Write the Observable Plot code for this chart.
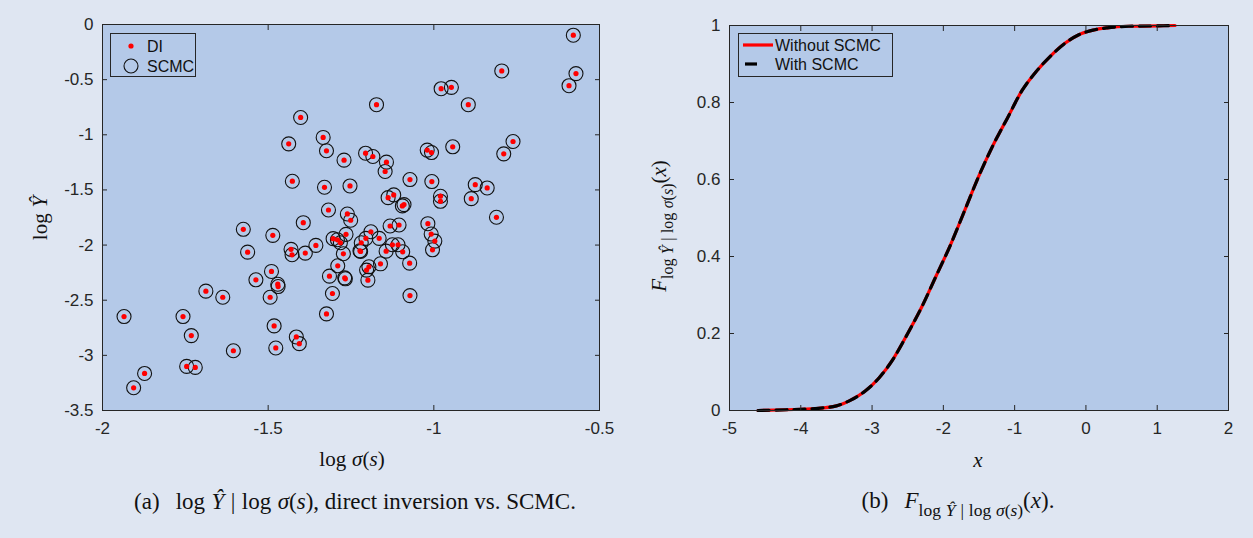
<!DOCTYPE html>
<html><head><meta charset="utf-8">
<script src="https://cdn.jsdelivr.net/npm/d3@7"></script>
<script src="https://cdn.jsdelivr.net/npm/@observablehq/plot@0.6"></script>
<style>
body{margin:0;background:#dfe6f2;}
#wrap{position:relative;width:1253px;height:538px;background:#dfe6f2;overflow:hidden;font-family:"Liberation Sans",Arial,sans-serif;color:#262626;}
.abs{position:absolute;}
.math{font-family:"Liberation Serif","DejaVu Serif",serif;font-size:21px;color:#111;white-space:nowrap;}
.math i{font-style:italic;}
.cap{font-size:23px;}
.cen{transform:translate(-50%,-50%);}
.rot{transform:translate(-50%,-50%) rotate(-90deg);}
.leg{border:1px solid #262626;background:#b4c9e8;box-sizing:border-box;font-size:16px;color:#111;}
sub{font-size:76%;vertical-align:-0.45em;}
.sp{display:inline-block;width:0.28em;}
.sp2{display:inline-block;width:0.7em;}
</style></head>
<body><div id="wrap"></div>
<script>
// ---- data (a): log sigma(s) vs log Yhat ----
const logSigma = [-1.402,-1.334,-1.438,-1.324,-1.271,-1.427,-1.330,-1.253,-1.318,-1.261,-1.394,
-0.579,-0.795,-0.571,-0.592,-0.978,-0.947,-1.173,-0.896,-0.761,-0.789,-0.943,-1.020,-1.007,
-1.206,-1.184,-1.143,-1.147,-1.072,-1.006,-1.138,-1.121,-1.095,-1.090,-0.980,-0.980,-0.875,
-0.839,-0.887,-0.811,-1.251,-1.105,-1.132,-1.018,-1.575,-1.486,-1.562,-1.431,-1.428,-1.388,
-1.356,-1.304,-1.291,-1.282,-1.265,-1.273,-1.290,-1.315,-1.269,-1.267,-1.490,-1.537,-1.471,
-1.470,-1.494,-1.306,-1.324,-1.688,-1.637,-1.935,-1.757,-1.732,-1.482,-1.477,-1.415,-1.406,
-1.605,-1.746,-1.720,-1.873,-1.906,-1.190,-1.205,-1.219,-1.165,-1.125,-1.108,-1.144,-1.094,
-1.223,-1.221,-1.161,-1.196,-1.203,-1.199,-1.073,-1.072,-1.008,-0.997,-1.004];
const logYhat = [-0.843,-1.024,-1.082,-1.145,-1.230,-1.421,-1.476,-1.464,-1.682,-1.718,-1.797,
-0.097,-0.421,-0.445,-0.555,-0.582,-0.570,-0.727,-0.727,-1.061,-1.173,-1.109,-1.139,-1.161,
-1.167,-1.197,-1.248,-1.333,-1.406,-1.424,-1.570,-1.545,-1.645,-1.633,-1.557,-1.603,-1.452,
-1.482,-1.579,-1.748,-1.775,-1.818,-1.827,-1.806,-1.857,-1.912,-2.064,-2.039,-2.088,-2.073,
-2.003,-1.942,-1.952,-1.979,-1.903,-2.079,-2.188,-2.282,-2.297,-2.306,-2.239,-2.315,-2.355,
-2.376,-2.473,-2.439,-2.624,-2.418,-2.473,-2.648,-2.648,-2.821,-2.733,-2.933,-2.833,-2.894,
-2.958,-3.100,-3.109,-3.164,-3.294,-1.879,-1.939,-1.979,-1.939,-1.997,-1.997,-2.055,-2.061,
-2.052,-2.058,-2.170,-2.197,-2.227,-2.318,-2.164,-2.458,-1.900,-1.964,-2.043];
const xTicksA = [-2,-1.5,-1,-0.5];
const yTicksA = [0,-0.5,-1,-1.5,-2,-2.5,-3,-3.5];

// ---- data (b): CDF ----
const cdfX       = [-4.6,-4.2,-3.8,-3.5,-3.3,-3.1,-2.9,-2.7,-2.5,-2.3,-2.1,-1.9,-1.7,-1.5,-1.3,-1.1,-0.9,-0.7,-0.5,-0.3,-0.1,0.1,0.3,0.6,1.0,1.25];
const cdfWithout = [0,0.002,0.005,0.012,0.027,0.05,0.085,0.135,0.2,0.27,0.35,0.43,0.52,0.61,0.69,0.76,0.83,0.88,0.92,0.953,0.976,0.988,0.994,0.998,0.999,1.0];
const cdfWith    = [0,0.002,0.005,0.012,0.027,0.05,0.085,0.135,0.2,0.27,0.35,0.43,0.52,0.61,0.69,0.76,0.83,0.88,0.92,0.953,0.976,0.988,0.994,0.998,0.999,1.0];
const xTicksB = [-5,-4,-3,-2,-1,0,1,2];
const yTicksB = [0,0.2,0.4,0.6,0.8,1];

const plotBg = "#b4c9e8";
const axisCol = "#262626";
const fmt = d => String(d);

const scatter = logSigma.map((x,i)=>({x, y: logYhat[i]}));
const cdf = cdfX.map((x,i)=>({x, without: cdfWithout[i], with: cdfWith[i]}));

const common = {style:{background:"transparent",fontFamily:'"Liberation Sans",Arial,sans-serif',fontSize:"17px",color:axisCol,overflow:"visible"}};

function axes(xt, yt) {
  return [
    Plot.axisX(xt, {anchor:"bottom", tickSize:-5, tickPadding:16, tickFormat:fmt, label:null, stroke:axisCol}),
    Plot.axisX(xt, {anchor:"top", tickSize:-5, tickFormat:()=>"", label:null, stroke:axisCol}),
    Plot.axisY(yt, {anchor:"left", tickSize:-5, tickPadding:14, tickFormat:fmt, label:null, stroke:axisCol}),
    Plot.axisY(yt, {anchor:"right", tickSize:-5, tickFormat:()=>"", label:null, stroke:axisCol})
  ];
}

const chartA = Plot.plot({
  ...common,
  width: 640, height: 430,
  marginLeft: 102, marginRight: 41, marginTop: 24, marginBottom: 20,
  x: {domain: [-2, -0.5]},
  y: {domain: [-3.5, 0]},
  marks: [
    Plot.frame({fill: plotBg}),
    Plot.dot(scatter, {x:"x", y:"y", r:7, stroke:"#111", strokeWidth:1.1, fill:"none"}),
    Plot.dot(scatter, {x:"x", y:"y", r:2.6, fill:"#ff0000", stroke:"none"}),
    ...axes(xTicksA, yTicksA),
    Plot.frame({stroke: axisCol, strokeWidth:1})
  ]
});

const chartB = Plot.plot({
  ...common,
  width: 613, height: 430,
  marginLeft: 89, marginRight: 25, marginTop: 25, marginBottom: 20,
  x: {domain: [-5, 2]},
  y: {domain: [0, 1]},
  marks: [
    Plot.frame({fill: plotBg}),
    Plot.line(cdf, {x:"x", y:"without", stroke:"#ff0000", strokeWidth:3.2, curve:"monotone-x"}),
    Plot.line(cdf, {x:"x", y:"with", stroke:"#000", strokeWidth:3.2, strokeDasharray:"11,7", curve:"monotone-x"}),
    ...axes(xTicksB, yTicksB),
    Plot.frame({stroke: axisCol, strokeWidth:1})
  ]
});

const wrap = document.getElementById("wrap");
chartA.classList.add("abs"); chartA.style.left="0px"; chartA.style.top="0px";
chartB.classList.add("abs"); chartB.style.left="640px"; chartB.style.top="0px";
wrap.appendChild(chartA); wrap.appendChild(chartB);

function add(html, cls, left, top) {
  const d = document.createElement("div");
  d.className = "abs " + cls;
  d.style.left = left + "px"; d.style.top = top + "px";
  d.innerHTML = html;
  wrap.appendChild(d);
  return d;
}
const cond = 'log<span class="sp"></span><i>Ŷ</i><span class="sp"></span>|<span class="sp"></span>log<span class="sp"></span><i>σ</i>(<i>s</i>)';
// axis labels
add('log<span class="sp"></span><i>σ</i>(<i>s</i>)', "math cen", 352, 459);
add('log<span class="sp"></span><i>Ŷ</i>', "math rot", 40, 218);
add('<i>x</i>', "math cen", 978, 460);
add('<i>F</i><sub>' + cond + '</sub>(<i>x</i>)', "math rot", 662, 226);
// captions
add('(a)<span class="sp2"></span>' + cond + ', direct inversion vs. SCMC.', "math cap cen", 355, 502);
add('(b)<span class="sp2"></span><i>F</i><sub>' + cond + '</sub>(<i>x</i>).', "math cap cen", 958, 504);

// legends
const legA = add('', "leg", 110, 33);
legA.style.width = "86px"; legA.style.height = "44px";
legA.innerHTML = '<svg width="86" height="44" style="position:absolute;left:0;top:0">' +
  '<circle cx="20" cy="12" r="2.6" fill="#ff0000"/>' +
  '<circle cx="20" cy="32" r="7" fill="none" stroke="#111" stroke-width="1.1"/>' +
  '<text x="36" y="17.5" font-size="16" fill="#111">DI</text>' +
  '<text x="36" y="37.5" font-size="16" fill="#111">SCMC</text></svg>';

const legB = add('', "leg", 738, 33);
legB.style.width = "155px"; legB.style.height = "44px";
legB.innerHTML = '<svg width="155" height="44" style="position:absolute;left:0;top:0">' +
  '<line x1="4" x2="34" y1="11" y2="11" stroke="#ff0000" stroke-width="3.2"/>' +
  '<line x1="6" x2="18" y1="30" y2="30" stroke="#000" stroke-width="3.2"/>' +
  '<text x="36" y="16.5" font-size="16" fill="#111">Without SCMC</text>' +
  '<text x="36" y="35.5" font-size="16" fill="#111">With SCMC</text></svg>';
</script></body></html>
